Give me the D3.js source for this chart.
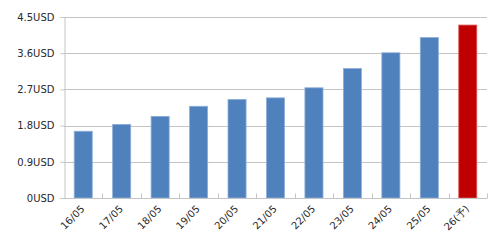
<!DOCTYPE html>
<html lang="ja">
<head>
<meta charset="UTF-8">
<title>USD chart</title>
<script src="https://d3js.org/d3.v7.min.js"></script>
<style>
    body { margin: 0; background: #fff; }
    .tick text { font-family: "DejaVu Sans", Verdana, sans-serif; font-size: 10px; fill: #2a2a2a; }
</style>
</head>
<body>
<div id="chart"></div>
<script>
// data
const days = ["16/05", "17/05", "18/05", "19/05", "20/05", "21/05", "22/05", "23/05", "24/05", "25/05", "26(予)"];
const prices = [1.66, 1.83, 2.03, 2.28, 2.45, 2.49, 2.74, 3.22, 3.61, 3.99, 4.30];
const yTicks = [0, 0.9, 1.8, 2.7, 3.6, 4.5];
const forecastDay = "26(予)";

const W = 500, H = 249;
const margin = {top: 17, right: 13, bottom: 51, left: 64};

const svg = d3.select("#chart").append("svg")
    .attr("width", W)
    .attr("height", H);

const x = d3.scaleBand()
    .domain(days)
    .range([margin.left, W - margin.right]);

const y = d3.scaleLinear()
    .domain([0, 4.5])
    .range([H - margin.bottom, margin.top]);

// grid lines
svg.append("g")
    .selectAll("line")
    .data(yTicks)
    .join("line")
        .attr("x1", margin.left)
        .attr("x2", W - margin.right)
        .attr("y1", d => Math.round(y(d)) + 0.5)
        .attr("y2", d => Math.round(y(d)) + 0.5)
        .attr("stroke", "#c4c4c4");

// y axis
const yAxis = svg.append("g")
    .attr("transform", "translate(" + (margin.left + 0.5) + ",0)")
    .call(d3.axisLeft(y).tickValues(yTicks).tickSize(4).tickPadding(6)
        .tickFormat(d => d + "USD"));
yAxis.select(".domain").attr("stroke", "#c4c4c4");
yAxis.selectAll(".tick line").attr("stroke", "#c4c4c4");

// bars
const barW = x.bandwidth() * 0.47;
svg.append("g")
    .selectAll("rect")
    .data(days)
    .join("rect")
        .attr("x", (d) => x(d) + (x.bandwidth() - barW) / 2)
        .attr("y", (d, i) => y(prices[i]))
        .attr("width", barW)
        .attr("height", (d, i) => y(0) - y(prices[i]))
        .attr("fill", d => d === forecastDay ? "#c00000" : "#4f81bd")
        .attr("stroke", d => d === forecastDay ? "#e06060" : "#8eaedb")
        .attr("stroke-width", 0.8);

// x axis: ticks between categories pointing up
const base = Math.round(y(0)) + 0.5;
const bounds = days.slice(1).map(d => x(d)).concat([x.range()[1]]);
svg.append("g")
    .selectAll("line")
    .data(bounds)
    .join("line")
        .attr("x1", d => Math.round(d) + 0.5)
        .attr("x2", d => Math.round(d) + 0.5)
        .attr("y1", base)
        .attr("y2", base - 5)
        .attr("stroke", "#c4c4c4");

svg.append("line")
    .attr("x1", margin.left)
    .attr("x2", W - margin.right)
    .attr("y1", base)
    .attr("y2", base)
    .attr("stroke", "#c4c4c4");

const xAxis = svg.append("g")
    .attr("transform", "translate(0," + base + ")")
    .call(d3.axisBottom(x).tickSize(0).tickPadding(0));
xAxis.select(".domain").remove();
xAxis.selectAll(".tick text")
    .attr("text-anchor", "end")
    .attr("dy", 0)
    .attr("transform", "translate(2,11) rotate(-45)");
</script>
</body>
</html>
